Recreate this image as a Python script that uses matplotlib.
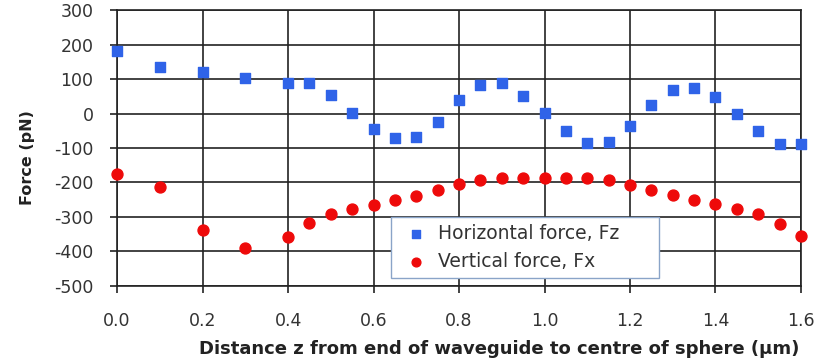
import matplotlib
matplotlib.use("Agg")
import matplotlib.pyplot as plt

# distance from waveguide end (um)
z = [0.0, 0.1, 0.2, 0.3, 0.4, 0.45, 0.5, 0.55, 0.6, 0.65, 0.7, 0.75, 0.8,
     0.85, 0.9, 0.95, 1.0, 1.05, 1.1, 1.15, 1.2, 1.25, 1.3, 1.35, 1.4,
     1.45, 1.5, 1.55, 1.6]

# horizontal force Fz (pN)
fz = [180, 134, 120, 104, 90, 90, 53, 2, -46, -71, -67, -25, 38,
      83, 88, 51, 2, -52, -85, -83, -37, 24, 67, 74, 47,
      0, -52, -88, -88]

# vertical force Fx (pN)
fx = [-175, -214, -337, -390, -358, -318, -292, -276, -264, -251, -238, -222, -204,
      -193, -187, -187, -187, -187, -187, -193, -206, -222, -236, -251, -263,
      -277, -290, -319, -356]

plt.rcParams['font.family'] = ['DejaVu Sans']
plt.rcParams['axes.unicode_minus'] = False

fig = plt.figure(figsize=(8.19, 3.61), dpi=100, facecolor='white')
ax = fig.add_axes([0.143, 0.208, 0.835, 0.764])

ax.scatter(z, fz, marker='s', s=42, color='#2f63e8', label='Horizontal force, Fz',
           zorder=3, clip_on=False)
ax.scatter(z, fx, marker='o', s=62, color='#ee0a0a', label='Vertical force, Fx',
           zorder=3, clip_on=False)

ax.set_xlim(0, 1.6)
ax.set_ylim(-500, 300)
ax.set_xticks([0.0, 0.2, 0.4, 0.6, 0.8, 1.0, 1.2, 1.4, 1.6])
ax.set_xticklabels(['0.0', '0.2', '0.4', '0.6', '0.8', '1.0', '1.2', '1.4', '1.6'])
ax.set_yticks(range(-500, 301, 100))

ax.grid(True, color='#222222', linewidth=1.2)
for s in ax.spines.values():
    s.set_color('#222222')
    s.set_linewidth(1.2)
ax.tick_params(axis='both', colors='#222222', labelcolor='#333333',
               labelsize=12.5, length=5, width=1.2)
ax.tick_params(axis='x', pad=14)
ax.tick_params(axis='y', pad=12)

ax.set_xlabel('Distance z from end of waveguide to centre of sphere (µm)',
              fontsize=13, fontweight='bold', color='#222222', labelpad=7, x=0.558)
ax.set_ylabel('Force (pN)', fontsize=11.5, fontweight='bold', color='#222222',
              labelpad=14, y=0.464)

leg = ax.legend(loc='lower left', bbox_to_anchor=(0.40, 0.029, 0.392, 0.24),
                mode='expand', fontsize=13.5, frameon=True, fancybox=False,
                handletextpad=0.2, borderpad=0.35, borderaxespad=0,
                labelspacing=0.5, handlelength=2.0, markerscale=0.8)
leg.get_frame().set_edgecolor('#8aa4c8')
leg.get_frame().set_linewidth(1.0)
leg.get_frame().set_alpha(1)
for t in leg.get_texts():
    t.set_color('#333333')

fig.savefig('out.png', dpi=100, facecolor='white')
